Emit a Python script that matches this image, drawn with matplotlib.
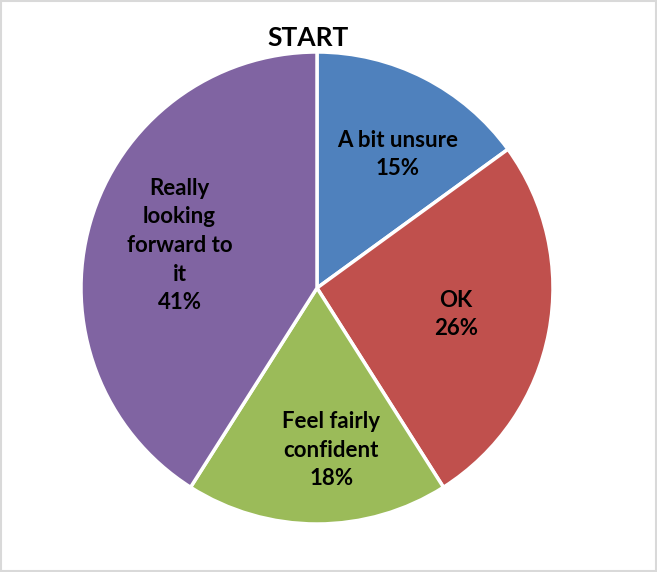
import matplotlib
matplotlib.use('Agg')
import matplotlib.pyplot as plt
from matplotlib.patches import Rectangle
import numpy as np

# slices, clockwise from 12 o'clock
categories = ['A bit unsure', 'OK', 'Feel fairly\nconfident', 'Really\nlooking\nforward to\nit']
shares = [15, 26, 18, 41]
colors = ['#4F81BD', '#C0504D', '#9BBB59', '#8064A2']
# label placement: radius fraction and angle nudge (deg) from wedge middle
label_dist = [0.66, 0.60, 0.69, 0.61]
label_turn = [-4, 0, 5, -1]

plt.rcParams['font.family'] = ['Lato', 'DejaVu Sans']

W, H = 657, 572
fig = plt.figure(figsize=(W / 100, H / 100), dpi=100)

# pie centre ~ (317, 288) px, radius ~ 236 px
cx, cy, r = 317, 288, 236
ax = fig.add_axes([(cx - r) / W, (H - cy - r) / H, 2 * r / W, 2 * r / H])

wedges, _ = ax.pie(shares, colors=colors, startangle=90, counterclock=False,
                   wedgeprops=dict(edgecolor='white', linewidth=2.5))

for w, c, s, d, t in zip(wedges, categories, shares, label_dist, label_turn):
    mid = np.deg2rad((w.theta1 + w.theta2) / 2 + t)
    ax.text(d * np.cos(mid), d * np.sin(mid), f"{c}\n{s}%", ha='center', va='center',
            fontsize=16, fontweight='bold', linespacing=1.45)

ax.set_xlim(-1, 1)
ax.set_ylim(-1, 1)
ax.set_aspect('equal')

fig.text(308 / W, 1 - 38 / H, 'START', ha='center', va='center',
         fontsize=19, fontweight='bold')

# light grey frame round the chart area
fig.patches.append(Rectangle((0.002, 0.002), 0.996, 0.996, transform=fig.transFigure,
                             fill=False, edgecolor='#d9d9d9', linewidth=1.5))

fig.savefig('out.png', dpi=100)
